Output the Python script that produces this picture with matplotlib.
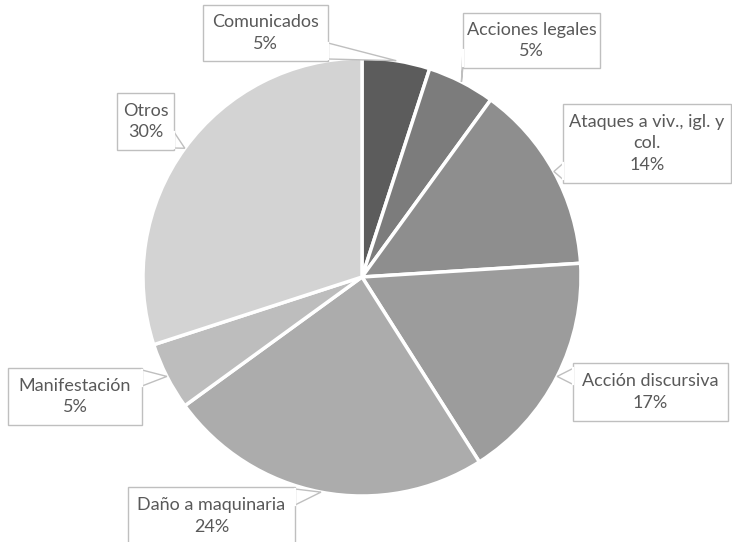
import matplotlib.pyplot as plt
from matplotlib.patches import Rectangle, Polygon
import numpy as np

plt.rcParams['font.family'] = ['Lato', 'DejaVu Sans']

labels = ['Comunicados', 'Acciones legales', 'Ataques a viv., igl. y\ncol.',
          'Acción discursiva', 'Daño a maquinaria', 'Manifestación', 'Otros']
values = [5, 5, 14, 17, 24, 5, 30]
colors = ['#5c5c5c', '#7c7c7c', '#8e8e8e', '#9c9c9c', '#acacac', '#bdbdbd', '#d3d3d3']

W, H = 732, 542
# label boxes in pixel coords (x0, y0, x1, y1), y measured from the top
boxes = [(203, 5, 328, 61), (463, 13, 600, 68), (563, 104, 731, 183),
         (573, 363, 728, 421), (128, 487, 295, 545), (8, 368, 142, 425),
         (117, 93, 174, 150)]

cx, cy, r = 362, H - 277, 219
txt_col = '#595959'
edge_col = '#bfbfbf'

fig = plt.figure(figsize=(W / 100, H / 100), dpi=100)
ax = fig.add_axes([0, 0, 1, 1])
wedges, _ = ax.pie(values, colors=colors, startangle=90, counterclock=False,
                   center=(cx, cy), radius=r,
                   wedgeprops=dict(edgecolor='white', linewidth=2.5))
ax.set_xlim(0, W)
ax.set_ylim(0, H)
ax.set_aspect('equal')
ax.axis('off')

for w, lab, v, b in zip(wedges, labels, values, boxes):
    mid = np.deg2rad((w.theta1 + w.theta2) / 2)
    tx, ty = cx + r * np.cos(mid), cy + r * np.sin(mid)
    x0, x1 = b[0], b[2]
    y0, y1 = H - b[3], H - b[1]
    # pointer base on the side of the box that faces the tip
    if tx > x1:
        yb = min(max(ty, y0 + 10), y1 - 10)
        base = [(x1, yb - 8), (x1, yb + 8)]
    elif tx < x0:
        yb = min(max(ty, y0 + 10), y1 - 10)
        base = [(x0, yb - 8), (x0, yb + 8)]
    elif ty < y0:
        xb = min(max(tx, x0 + 10), x1 - 10)
        base = [(xb - 8, y0), (xb + 8, y0)]
    else:
        xb = min(max(tx, x0 + 10), x1 - 10)
        base = [(xb - 8, y1), (xb + 8, y1)]
    ax.add_patch(Polygon([base[0], (tx, ty), base[1]], closed=True,
                         facecolor='white', edgecolor=edge_col, lw=1, zorder=3))
    ax.add_patch(Rectangle((x0, y0), x1 - x0, y1 - y0, facecolor='white',
                           edgecolor=edge_col, lw=1, zorder=4))
    ax.plot([base[0][0], base[1][0]], [base[0][1], base[1][1]], color='white',
            lw=1.6, zorder=5)
    ax.text((x0 + x1) / 2, (y0 + y1) / 2, f'{lab}\n{v}%', ha='center', va='center',
            fontsize=13, color=txt_col, linespacing=1.45, zorder=6)

fig.savefig('out.png', dpi=100)
